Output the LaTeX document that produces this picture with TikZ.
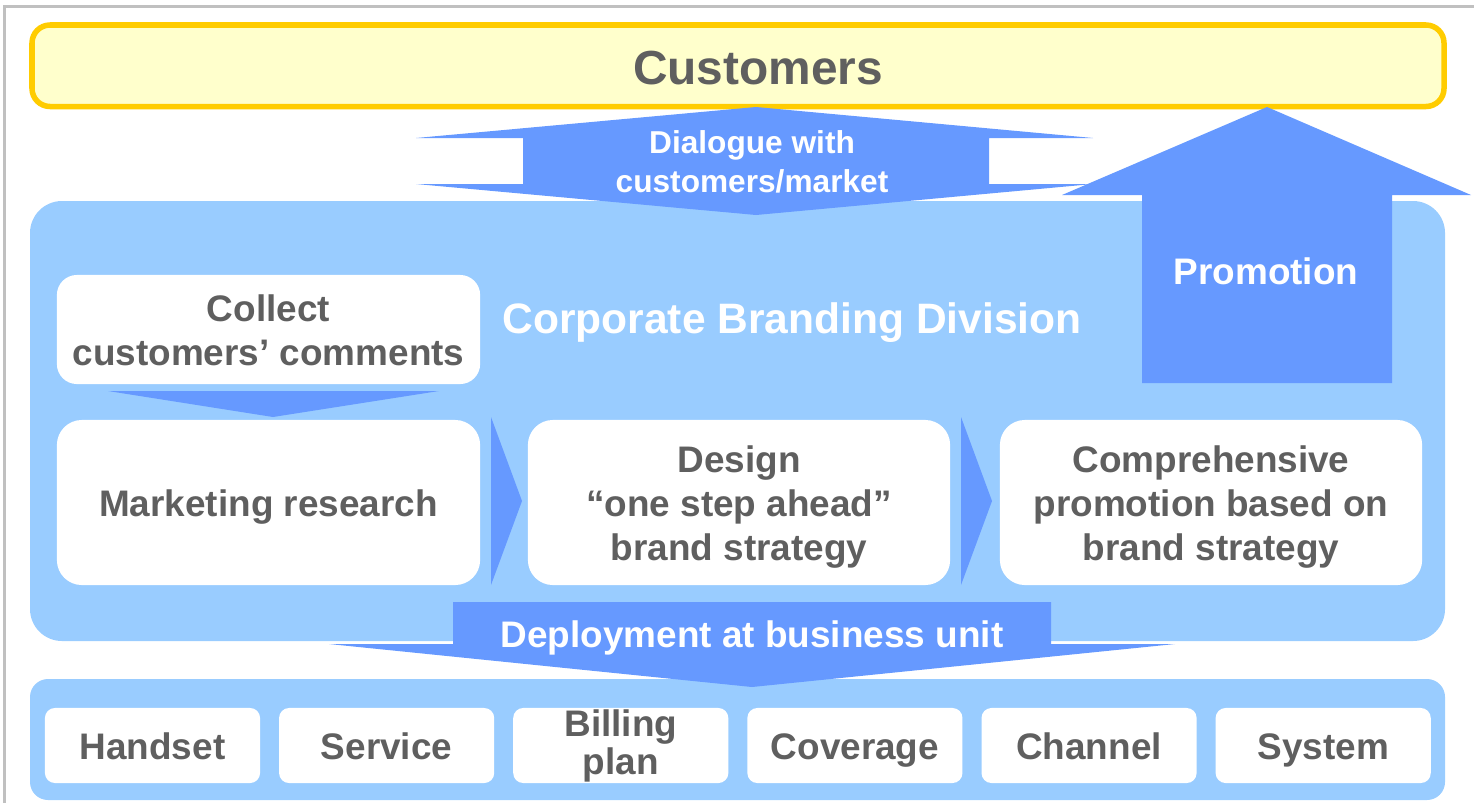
\documentclass[tikz,border=0pt]{standalone}
\usepackage{fontspec}
\setmainfont{Liberation Sans}
\usetikzlibrary{positioning}
\definecolor{skyfill}{HTML}{99CCFF}
\definecolor{arrowblue}{HTML}{6699FF}
\definecolor{textgray}{HTML}{5F5F5F}
\definecolor{custline}{HTML}{FFCC00}
\definecolor{custfill}{HTML}{FFFFCC}
\definecolor{framegray}{HTML}{C0C0C0}
% full line height on the first and the last line of a box
\newcommand\upstrut{\rule{0pt}{10.4pt}}
\newcommand\downstrut{\rule[-2.2pt]{0pt}{2.2pt}}

\begin{document}
\begin{tikzpicture}[x=0.01cm, y=-0.01cm,
	boxtext/.style={font=\bfseries\fontsize{10.5}{12.5}\selectfont, text=textgray, align=center},
	whitetext/.style={boxtext, text=white},
	whitebox/.style={boxtext, fill=white, rounded corners=0.25cm, inner sep=0pt, outer sep=0pt},
	unitbox/.style={whitebox, rounded corners=0.1cm, minimum width=2.15cm, minimum height=0.75cm},
	flow/.style={fill=arrowblue}]
			%%%%% START %%%%%
			
			\useasboundingbox (0,0) rectangle (1474,803);
			\draw[framegray, line width=0.03cm] (4.5,803) -- (4.5,6.5) -- (1474,6.5);
			
			% customers bar
			\draw[custline, fill=custfill, line width=0.055cm, rounded corners=0.18cm] (32,25) rectangle (1444,106.5);
			\node[boxtext, font=\bfseries\fontsize{13.6}{16}\selectfont] (cust) at (758,68) {Customers};
			
			% panels
			\fill[skyfill, rounded corners=0.32cm] (30,201) rectangle (1445,641);
			\fill[skyfill, rounded corners=0.18cm] (30,679) rectangle (1445,800);
			
			% dialogue arrow, up and down
			\fill[flow] (756,107) -- (1093,138) -- (989,138) -- (989,184) -- (1093,184) -- (756,215)
				-- (416,184) -- (523,184) -- (523,138) -- (416,138) -- cycle;
			\node[whitetext, font=\bfseries\fontsize{9}{11.1}\selectfont] (dialogue) at (752,162) {Dialogue with\\customers/market};
			
			% promotion arrow
			\fill[flow] (1267,107) -- (1471,195) -- (1392,195) -- (1392,383) -- (1142,383) -- (1142,195) -- (1062,195) -- cycle;
			\node[whitetext] (promo) at (1266,271) {Promotion};
			
			\node[whitetext, font=\bfseries\fontsize{12.1}{14}\selectfont] (division) at (792,323) {Corporate Branding Division};
			
			% steps inside the division
			\node[whitebox, minimum width=4.23cm, minimum height=1.09cm, rounded corners=0.2cm] (collect) at (268.5,329.5) {\upstrut Collect\\customers’ comments\downstrut};
			\fill[flow] (108,391) -- (439,391) -- (273,417) -- cycle;
			
			\node[whitebox, minimum width=4.23cm, minimum height=1.65cm] (research) at (268.5,502.5) {\upstrut Marketing research\downstrut};
			\fill[flow] (491,417) -- (522,501) -- (491,585) -- cycle;
			\node[whitebox, minimum width=4.22cm, minimum height=1.65cm] (design) at (739,502.5) {\upstrut Design\\“one step ahead”\\brand strategy\downstrut};
			\fill[flow] (961,417) -- (992,501) -- (961,585) -- cycle;
			\node[whitebox, minimum width=4.22cm, minimum height=1.65cm] (campaign) at (1211,502.5) {\upstrut Comprehensive\\promotion based on\\brand strategy\downstrut};
			
			% deployment arrow
			\fill[flow] (453,602) -- (1051,602) -- (1051,644) -- (1175,644) -- (752,687) -- (329,644) -- (453,644) -- cycle;
			\node[whitetext] (deploy) at (752,638) {Deployment at business unit};
			
			% business units
			\node[unitbox] (handset) at (152.5,745.5) {\upstrut Handset\downstrut};
			\node[unitbox, right=0.19cm of handset] (service) {\upstrut Service\downstrut};
			\node[unitbox, right=0.19cm of service, font=\bfseries\fontsize{10.5}{10.8}\selectfont] (billing) {Billing\\plan};
			\node[unitbox, right=0.19cm of billing] (coverage) {\upstrut Coverage\downstrut};
			\node[unitbox, right=0.19cm of coverage] (channel) {\upstrut Channel\downstrut};
			\node[unitbox, right=0.19cm of channel] (system) {\upstrut System\downstrut};
			
			%%%%% END %%%%%
\end{tikzpicture}
\end{document}
